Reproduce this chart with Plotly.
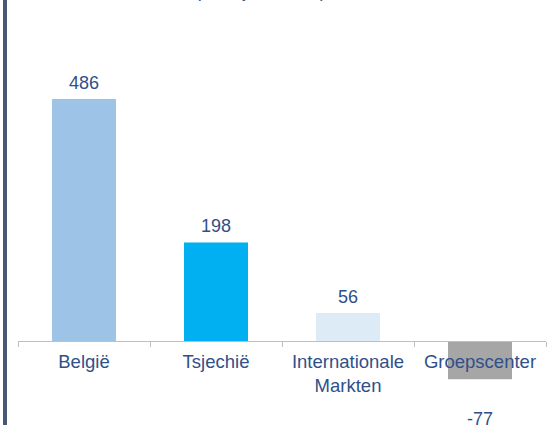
import plotly.graph_objects as go

categories = ["België", "Tsjechië", "Internationale<br>Markten", "Groepscenter"]
values = [486, 198, 56, -77]
bar_colors = ["#9DC3E6", "#00B0F0", "#DDEBF7", "#A6A6A6"]
title_text = "(in miljoen EUR)"

W, H = 554, 425
ML, MR, MT, MB = 18, 8, 0, 0
zero_px = 341          # pixel row of the category axis
px_per_unit = 0.498
plot_h = H - MT - MB
y_top = (zero_px - MT) / px_per_unit
y_bot = -(H - MB - zero_px) / px_per_unit

text_color = "#2F5089"
font_family = "Liberation Sans, Arial, sans-serif"

fig = go.Figure()
fig.add_trace(go.Bar(
    x=categories, y=values,
    marker=dict(color=bar_colors, line=dict(width=0)),
    hoverinfo="skip",
))

for c, v in zip(categories, values):
    if v >= 0:
        fig.add_annotation(x=c, y=v, text=str(v), showarrow=False,
                           yanchor="bottom", yshift=4,
                           font=dict(size=18, color=text_color, family=font_family))
    else:
        fig.add_annotation(x=c, y=v, text=str(v), showarrow=False,
                           yanchor="top", yshift=-28,
                           font=dict(size=18, color=text_color, family=font_family))

fig.add_annotation(xref="paper", yref="paper", x=(260 - ML) / (W - ML - MR), y=1,
                   yanchor="middle", yshift=9, text=title_text, showarrow=False,
                   font=dict(size=18, color=text_color, family=font_family))

# dark vertical rule at the left edge
fig.add_shape(type="rect", xref="paper", yref="paper",
              x0=(3 - ML) / (W - ML - MR), x1=(7 - ML) / (W - ML - MR),
              y0=-0.1, y1=1.1, fillcolor="#4B5873", line=dict(width=0), layer="above")

fig.update_layout(
    width=W, height=H,
    margin=dict(l=ML, r=MR, t=MT, b=MB, pad=0),
    paper_bgcolor="white", plot_bgcolor="white",
    bargap=0.515,
    showlegend=False,
    xaxis=dict(
        type="category", range=[-0.5, 3.5],
        anchor="free", position=(H - MB - zero_px) / plot_h,
        showline=True, linecolor="#BFBFBF", linewidth=1,
        ticks="outside", ticklen=5, tickcolor="#BFBFBF", tickwidth=1,
        tickson="boundaries", ticklabelstandoff=4,
        showgrid=False, zeroline=False, automargin=False,
        tickfont=dict(size=18.5, color=text_color, family=font_family),
    ),
    yaxis=dict(range=[y_bot, y_top], visible=False, showgrid=False,
               zeroline=False, automargin=False),
)

fig.write_html("out.html", config={"displayModeBar": False},
               post_script="document.body.style.margin='0';document.body.style.overflow='hidden';")
